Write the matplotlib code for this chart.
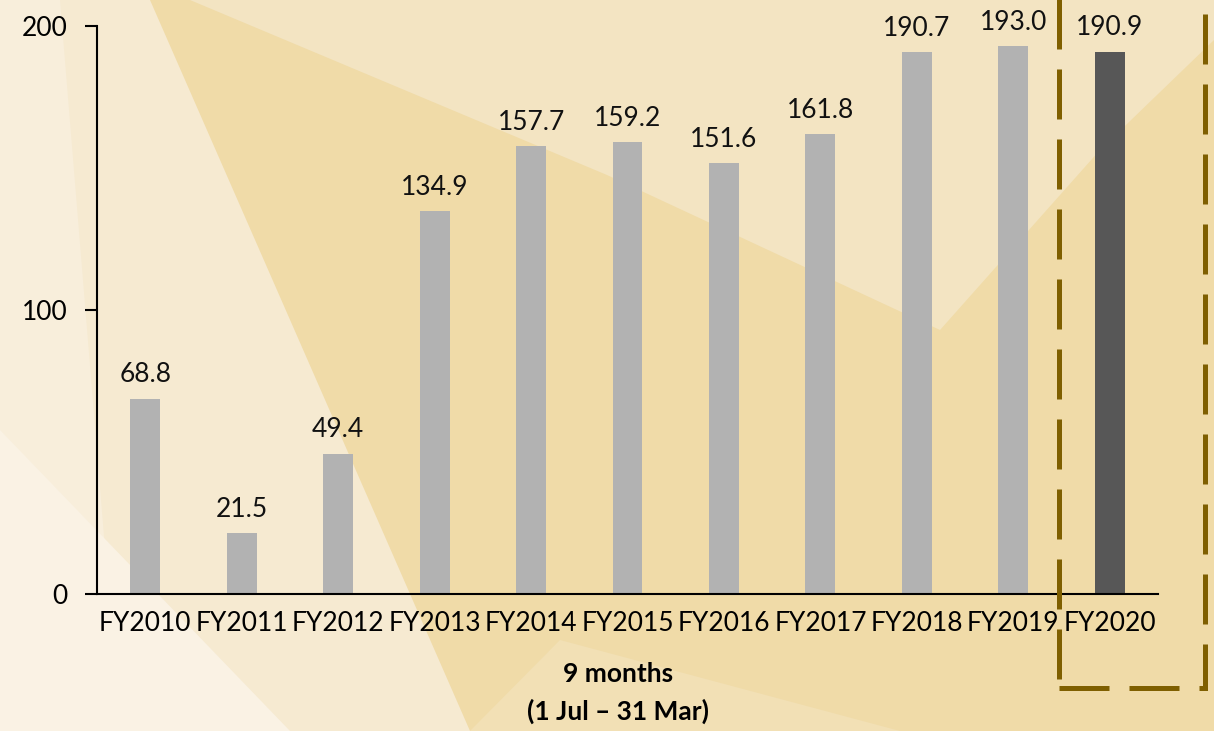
import numpy as np
import matplotlib.pyplot as plt
from matplotlib.patches import Polygon, Rectangle

years = ['FY2010', 'FY2011', 'FY2012', 'FY2013', 'FY2014', 'FY2015',
         'FY2016', 'FY2017', 'FY2018', 'FY2019', 'FY2020']
values = [68.8, 21.5, 49.4, 134.9, 157.7, 159.2, 151.6, 161.8, 190.7, 193.0, 190.9]
yticks = [0, 100, 200]
note = '9 months\n(1 Jul \u2013 31 Mar)'

W, H = 1214, 731
fig = plt.figure(figsize=(W / 100, H / 100), dpi=100)

# background shapes, drawn in pixel coords
bg = fig.add_axes([0, 0, 1, 1], zorder=-10)
bg.set_xlim(0, W)
bg.set_ylim(H, 0)
bg.axis('off')
bg.add_patch(Rectangle((0, 0), W, H, color='#F0DBA8'))
shapes = [
    ([(0, 0), (150, 0), (470, 731), (0, 731)], '#F6EAD1'),
    ([(0, 0), (60, 0), (120, 731), (0, 731)], '#F8EEDB'),
    ([(0, 430), (290, 731), (0, 731)], '#FAF2E4'),
    ([(190, 0), (1214, 0), (1214, 40), (1100, 150), (940, 330), (607, 175)], '#F3E4C2'),
    ([(470, 731), (560, 640), (900, 731)], '#F2E0B5'),
]
for pts, c in shapes:
    bg.add_patch(Polygon(pts, closed=True, color=c, lw=0))

ax = fig.add_axes([97 / W, 1 - 594 / H, (1158 - 97) / W, (594 - 26) / H])
ax.patch.set_alpha(0)
x = np.arange(len(years))
colors = ['#B2B2B2'] * (len(years) - 1) + ['#575757']
ax.bar(x, values, width=0.31, color=colors, zorder=2)

for xi, v in zip(x, values):
    ax.text(xi, v + 4, f'{v:.1f}', ha='center', va='bottom',
            fontsize=19, family='Lato', color='#111111')

ax.set_xlim(-0.5, len(years) - 0.5)
ax.set_ylim(0, 200)
ax.set_yticks(yticks)
ax.set_xticks(x)
ax.set_xticklabels(years, fontsize=19, family='Lato')
ax.tick_params(axis='x', length=0, pad=12)
ax.tick_params(axis='y', length=9, width=1.5, labelsize=19, pad=12)
for lab in ax.get_yticklabels():
    lab.set_family('Lato')
for s in ['top', 'right']:
    ax.spines[s].set_visible(False)
for s in ['left', 'bottom']:
    ax.spines[s].set_linewidth(1.5)

ax.text(5 - 0.1, -0.12, note, transform=ax.get_xaxis_transform(),
        ha='center', va='top', fontsize=19, family='Lato',
        fontweight='bold', linespacing=1.6)

# dashed highlight box around FY2020
box = Rectangle((1059 / W, 1 - 688 / H), (1205 - 1059) / W, 1.2,
                transform=fig.transFigure, fill=False, ec='#7F5F00',
                lw=3.6, ls=(0, (10, 4)), clip_on=False, zorder=5)
fig.patches.append(box)

fig.savefig('out.png', dpi=100)
